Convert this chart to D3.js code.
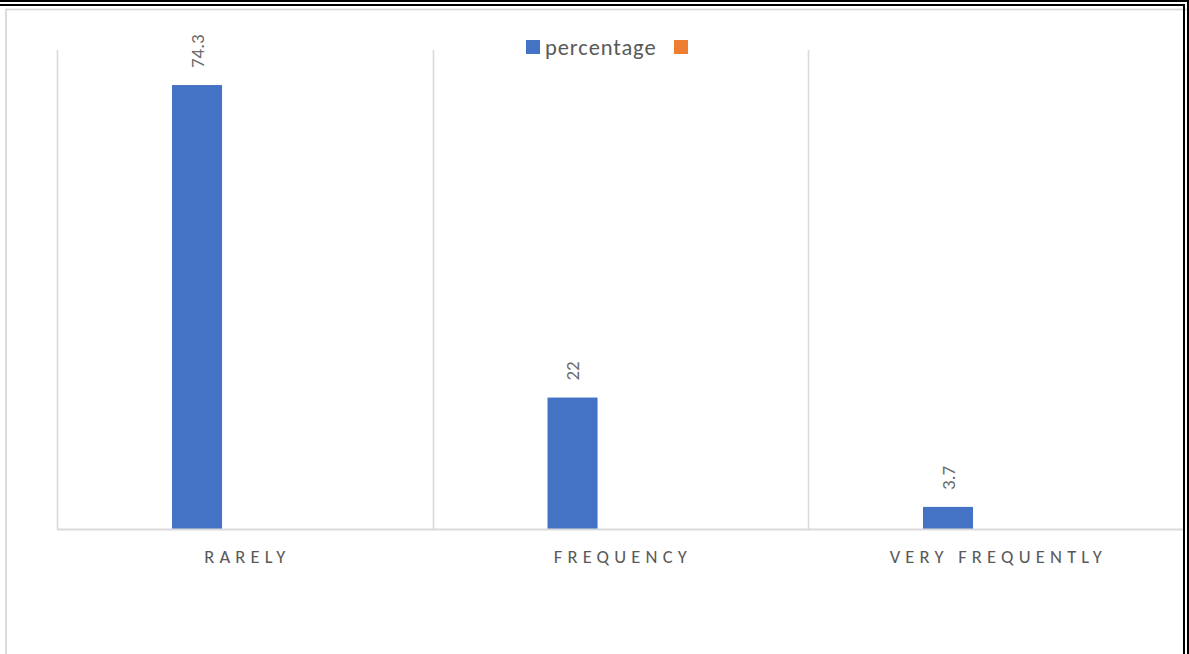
<!DOCTYPE html>
<html>
<head>
<meta charset="utf-8">
<script src="https://cdn.jsdelivr.net/npm/d3@7"></script>
<style>
  html, body { margin: 0; padding: 0; background: #ffffff; }
  svg { display: block; }
  text { font-family: Carlito, Calibri, Lato, "Open Sans", sans-serif; fill: #595959; }
</style>
</head>
<body>
<svg id="chart" width="1189" height="654"></svg>
<script>
// Survey responses: share of respondents per frequency level
const categories = ["RARELY", "FREQUENCY", "VERY FREQUENTLY"];
const seriesNames = ["percentage", ""];
const percentage = [74.3, 22, 3.7];
const secondSeries = [null, null, null];   // empty second series (orange) shown only in the legend
const seriesColors = ["#4472C4", "#ED7D31"];
const yDomain = [0, 80];

const W = 1189, H = 654;
const svg = d3.select("#chart");

// Plot area
const plot = { left: 57, right: 1183.5, top: 51, bottom: 529 };

const x0 = d3.scaleBand()
  .domain(categories)
  .range([plot.left, plot.right])
  .padding(0);

const x1 = d3.scaleBand()
  .domain(seriesNames)
  .range([115, x0.bandwidth() - 115])
  .paddingInner(0.476)
  .paddingOuter(0);

const y = d3.scaleLinear().domain(yDomain).range([plot.bottom, plot.top]);

// Chart-area frame (light gray)
svg.append("rect")
  .attr("x", 6).attr("y", 9.5)
  .attr("width", W).attr("height", H)
  .attr("fill", "none")
  .attr("stroke", "#D9D9D9")
  .attr("stroke-width", 1.8);

// Vertical category separators
const grid = svg.append("g").attr("class", "grid");
const sepX = categories.map(c => x0(c)).concat([plot.right]);
grid.selectAll("line.sep")
  .data(sepX)
  .join("line")
  .attr("class", "sep")
  .attr("x1", d => Math.round(d) + 0.5).attr("x2", d => Math.round(d) + 0.5)
  .attr("y1", y(yDomain[1]) - 1).attr("y2", plot.bottom)
  .attr("stroke", "#D9D9D9")
  .attr("stroke-width", 1.6);

// Bars
const rows = categories.map((c, i) => ({ cat: c, values: [percentage[i], secondSeries[i]] }));
const groups = svg.append("g").selectAll("g.cat")
  .data(rows)
  .join("g")
  .attr("class", "cat")
  .attr("transform", d => `translate(${x0(d.cat)},0)`);

groups.selectAll("rect")
  .data(d => d.values.map((v, k) => ({ series: seriesNames[k], k, v })).filter(e => e.v != null))
  .join("rect")
  .attr("x", d => x1(d.series))
  .attr("width", x1.bandwidth())
  .attr("y", d => y(d.v))
  .attr("height", d => y(0) - y(d.v))
  .attr("fill", d => seriesColors[d.k]);

// Rotated value labels
groups.selectAll("text.val")
  .data(d => d.values.map((v, k) => ({ series: seriesNames[k], k, v })).filter(e => e.v != null))
  .join("text")
  .attr("class", "val")
  .attr("transform", d => `translate(${x1(d.series) + x1.bandwidth() / 2},${y(d.v) - 17}) rotate(-90)`)
  .attr("dy", "0.36em")
  .attr("text-anchor", "start")
  .style("font-size", "19px")
  .style("fill", "#6b6b6b")
  .text(d => d.v);

// Baseline
svg.append("line")
  .attr("x1", plot.left).attr("x2", plot.right + 2)
  .attr("y1", plot.bottom + 0.5).attr("y2", plot.bottom + 0.5)
  .attr("stroke", "#D9D9D9")
  .attr("stroke-width", 1.8);

// Category axis
const labelSpacing = 5.2;
const xAxis = svg.append("g")
  .attr("transform", `translate(0,${plot.bottom})`)
  .call(d3.axisBottom(x0).tickSize(0).tickPadding(0));
xAxis.select(".domain").remove();
xAxis.selectAll("text")
  .attr("y", 34)
  .attr("dy", 0)
  .attr("dx", labelSpacing / 2)
  .style("font-size", "18.5px")
  .style("letter-spacing", labelSpacing + "px")
  .style("fill", "#595959")
  .style("font-family", "Carlito, Calibri, Lato, sans-serif");

// Legend
const legend = svg.append("g").attr("transform", "translate(526,40)");
legend.append("rect").attr("x", 0).attr("y", 0).attr("width", 14).attr("height", 14).attr("fill", seriesColors[0]);
legend.append("text").attr("x", 19).attr("y", 14.5).style("font-size", "22.5px").style("letter-spacing", "0.9px").text(seriesNames[0]);
legend.append("rect").attr("x", 148).attr("y", 0).attr("width", 14).attr("height", 14).attr("fill", seriesColors[1]);

// Double page border (top and right)
const border = svg.append("g").attr("fill", "#000");
border.append("rect").attr("x", 0).attr("y", 0).attr("width", W).attr("height", 2);
border.append("rect").attr("x", 0).attr("y", 4).attr("width", 1185).attr("height", 2);
border.append("rect").attr("x", 1183).attr("y", 4).attr("width", 2).attr("height", H);
border.append("rect").attr("x", 1187).attr("y", 0).attr("width", 2).attr("height", H);
</script>
</body>
</html>
